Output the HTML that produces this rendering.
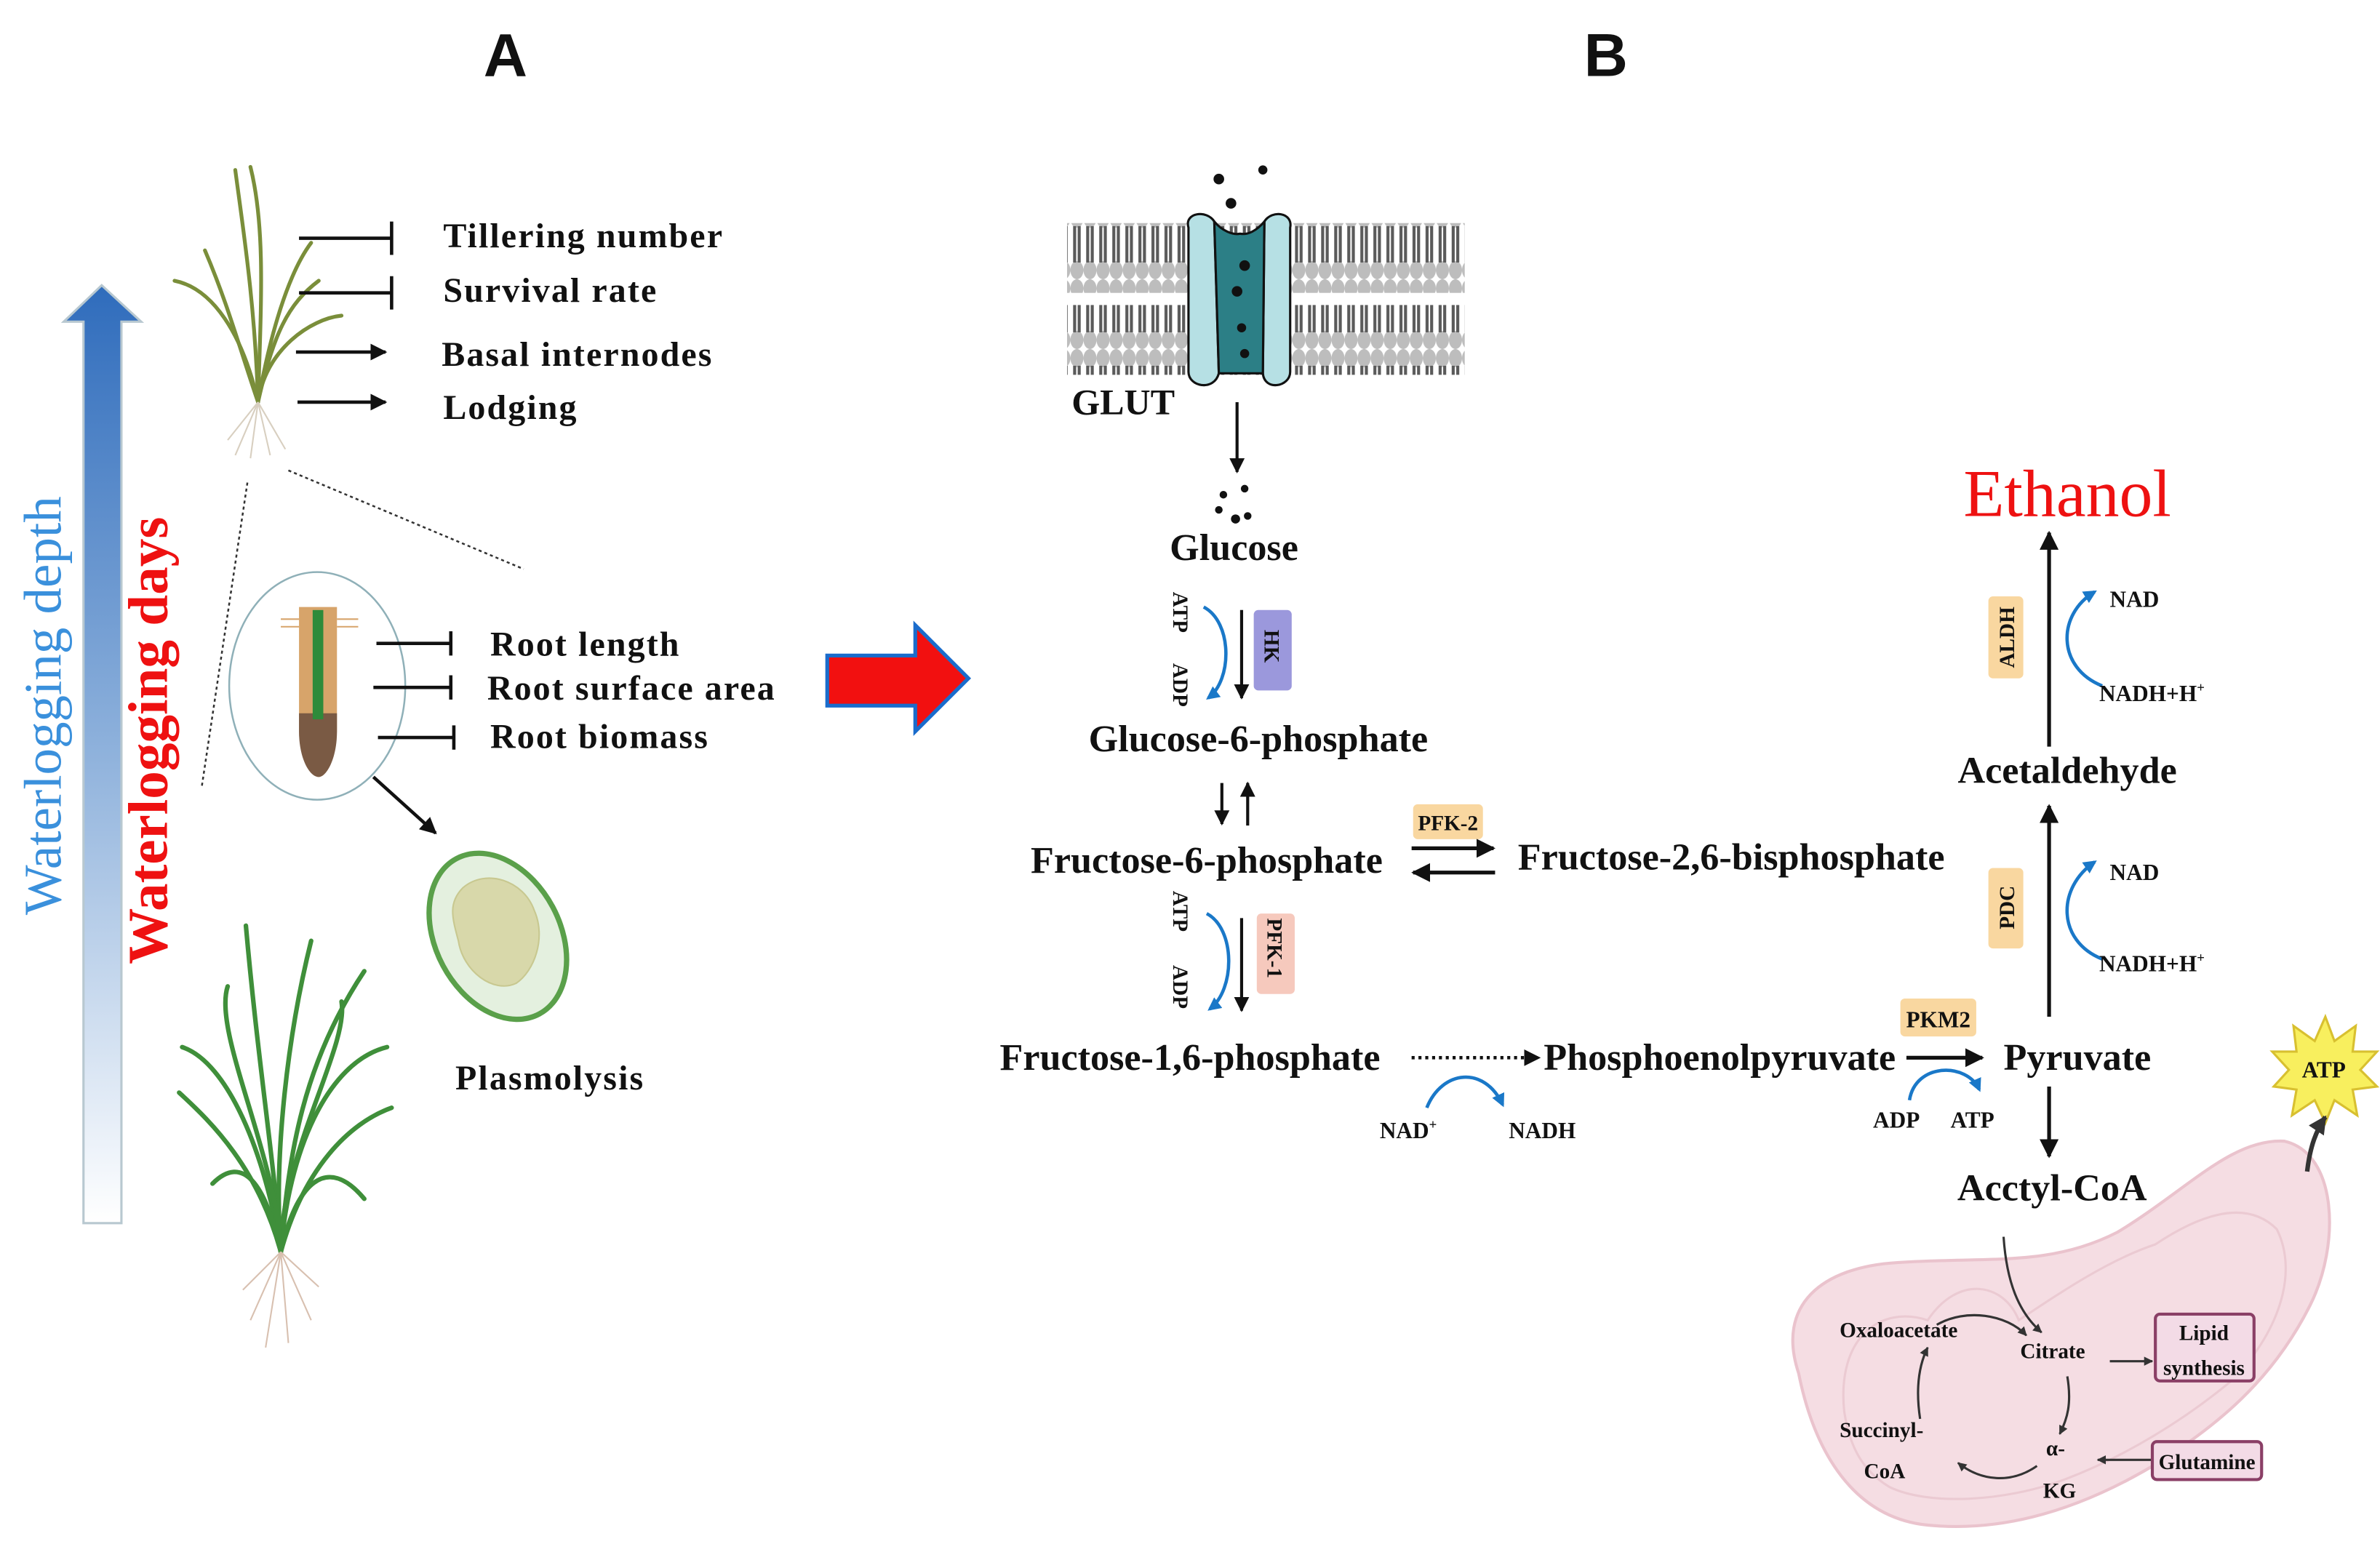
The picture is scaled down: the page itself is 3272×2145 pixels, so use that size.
<!DOCTYPE html>
<html><head><meta charset="utf-8"><style>
html,body{margin:0;padding:0;background:#fff;}
svg{display:block;}
text{font-family:"Liberation Serif",serif;font-weight:bold;fill:#111;}
.sans{font-family:"Liberation Sans",sans-serif;}
</style></head><body>
<svg width="3272" height="2145" viewBox="0 0 1568 1028" preserveAspectRatio="none" xmlns="http://www.w3.org/2000/svg">
<defs>
<linearGradient id="bg" x1="0" y1="0" x2="0" y2="1">
<stop offset="0" stop-color="#2f6cbc"/><stop offset="0.5" stop-color="#8fb2dc"/><stop offset="1" stop-color="#ffffff"/>
</linearGradient>
<pattern id="lip" x="0" y="0" width="8.6" height="46" patternUnits="userSpaceOnUse">
<ellipse cx="4.3" cy="6" rx="4.3" ry="6" fill="#bdbdbd"/>
<ellipse cx="4.3" cy="40" rx="4.3" ry="6" fill="#bdbdbd"/>
<line x1="2.8" y1="11" x2="2.8" y2="35" stroke="#5a5a5a" stroke-width="2"/>
<line x1="5.8" y1="11" x2="5.8" y2="35" stroke="#5a5a5a" stroke-width="2"/>
</pattern>
<marker id="ah" viewBox="0 0 10 10" refX="9" refY="5" markerWidth="5" markerHeight="5" orient="auto"><path d="M0,0 L10,5 L0,10 z" fill="#111"/></marker>
<marker id="ahs" viewBox="0 0 10 10" refX="9" refY="5" markerWidth="4" markerHeight="4" orient="auto"><path d="M0,0 L10,5 L0,10 z" fill="#333"/></marker>
<marker id="ab" viewBox="0 0 10 10" refX="8" refY="5" markerWidth="4" markerHeight="4" orient="auto"><path d="M0,0 L10,5 L0,10 z" fill="#1a78c8"/></marker>
</defs>

<text x="333" y="50" font-size="40" text-anchor="middle" class="sans" font-family="Liberation Sans">A</text>
<text x="1058" y="50" font-size="40" text-anchor="middle" class="sans" font-family="Liberation Sans">B</text>

<path d="M55,212 L42,212 L67,188 L93,212 L80,212 L80,806 L55,806 Z" fill="url(#bg)" stroke="#b8c8d0" stroke-width="1.5"/>
<text transform="translate(40,465) rotate(-90)" font-size="35" text-anchor="middle" style="fill:#3a90dc;font-weight:normal">Waterlogging depth</text>
<text transform="translate(110,488) rotate(-90)" font-size="37" text-anchor="middle" style="fill:#ee1111">Waterlogging days</text>

<g stroke="#7a8e3a" stroke-width="2.5" fill="none" stroke-linecap="round">
<path d="M170,265 C168,200 160,150 155,112"/>
<path d="M170,265 C172,200 175,150 165,110"/>
<path d="M170,265 C160,220 140,190 115,185"/>
<path d="M170,265 C180,220 190,200 210,185"/>
<path d="M170,265 C175,230 205,210 225,208"/>
<path d="M170,265 C158,230 150,200 135,165"/>
<path d="M170,265 C178,220 190,180 205,160"/>
</g>
<g stroke="#d8cfc0" stroke-width="1" fill="none">
<path d="M170,265 L155,300 M170,265 L165,302 M170,265 L178,300 M170,265 L188,296 M170,265 L150,290"/>
</g>

<g stroke="#111" stroke-width="2.2">
<line x1="197" y1="157" x2="258" y2="157"/><line x1="258" y1="146" x2="258" y2="168"/>
<line x1="197" y1="193" x2="258" y2="193"/><line x1="258" y1="182" x2="258" y2="204"/>
<line x1="195" y1="232" x2="254" y2="232" marker-end="url(#ah)"/>
<line x1="196" y1="265" x2="254" y2="265" marker-end="url(#ah)"/>
</g>
<g font-size="23" letter-spacing="1">
<text x="292" y="163">Tillering  number</text>
<text x="292" y="199">Survival  rate</text>
<text x="291" y="241">Basal internodes</text>
<text x="292" y="276">Lodging</text>
</g>

<g stroke="#333" stroke-width="1.2" stroke-dasharray="2,2">
<line x1="163" y1="318" x2="133" y2="518"/>
<line x1="190" y1="310" x2="345" y2="375"/>
</g>
<ellipse cx="209" cy="452" rx="58" ry="75" fill="none" stroke="#8fb0b8" stroke-width="1.2"/>
<path d="M197,400 L222,400 L222,480 C222,500 215,512 210,512 C204,512 197,500 197,480 Z" fill="#d7a46a"/>
<path d="M197,470 L222,470 L222,482 C222,500 215,512 210,512 C204,512 197,500 197,482 Z" fill="#7a5a44"/>
<rect x="206" y="402" width="7" height="72" fill="#2e8b3a"/>
<g stroke="#d7a46a" stroke-width="1"><line x1="185" y1="408" x2="197" y2="408"/><line x1="185" y1="413" x2="197" y2="413"/><line x1="222" y1="408" x2="236" y2="408"/><line x1="222" y1="413" x2="236" y2="413"/></g>
<g stroke="#111" stroke-width="2.2">
<line x1="248" y1="424" x2="297" y2="424"/><line x1="297" y1="416" x2="297" y2="432"/>
<line x1="246" y1="453" x2="297" y2="453"/><line x1="297" y1="445" x2="297" y2="461"/>
<line x1="249" y1="486" x2="299" y2="486"/><line x1="299" y1="478" x2="299" y2="494"/>
<line x1="246" y1="512" x2="287" y2="549" marker-end="url(#ah)"/>
</g>
<g font-size="23" letter-spacing="1">
<text x="323" y="432">Root length</text>
<text x="321" y="461">Root surface  area</text>
<text x="323" y="493">Root biomass</text>
<text x="300" y="718">Plasmolysis</text>
</g>
<ellipse cx="328" cy="617" rx="41" ry="58" transform="rotate(-28 328 617)" fill="#e4f0df" stroke="#5aa04a" stroke-width="3.5"/>
<path d="M305,585 C320,572 345,580 352,600 C360,618 352,640 340,648 C325,655 305,640 302,620 C298,605 295,595 305,585 Z" fill="#d8d8aa" stroke="#c8c890" stroke-width="1"/>

<g stroke="#3f8f3a" stroke-width="3" fill="none" stroke-linecap="round">
<path d="M185,825 C180,760 170,700 162,610"/>
<path d="M185,825 C175,760 150,700 120,690"/>
<path d="M185,825 C190,760 215,700 255,690"/>
<path d="M185,825 C190,760 200,700 240,640"/>
<path d="M185,825 C170,770 140,740 118,720"/>
<path d="M185,825 C200,770 230,740 258,730"/>
<path d="M185,825 C180,760 190,680 205,620"/>
<path d="M185,825 C175,780 160,760 140,780"/>
<path d="M185,825 C195,780 215,760 240,790"/>
<path d="M185,825 C185,760 230,690 225,660"/>
<path d="M185,825 C182,760 140,680 150,650"/>
</g>
<g stroke="#d8c0b0" stroke-width="1" fill="none">
<path d="M185,825 L165,870 M185,825 L175,888 M185,825 L190,885 M185,825 L205,870 M185,825 L160,850 M185,825 L210,848"/>
</g>

<path d="M545,432 L603,432 L603,412 L638,447 L603,482 L603,465 L545,465 Z" fill="#f21010" stroke="#1a6ccc" stroke-width="2.5"/>

<rect x="703" y="147" width="262" height="46" fill="url(#lip)"/>
<rect x="703" y="201" width="262" height="46" fill="url(#lip)"/>
<path d="M783,150 C780,140 795,138 800,146 L803,246 C800,258 783,255 783,245 Z" fill="#b6e0e4" stroke="#111" stroke-width="1.5"/>
<path d="M833,146 C838,138 852,140 850,150 L850,245 C850,255 833,258 832,246 Z" fill="#b6e0e4" stroke="#111" stroke-width="1.5"/>
<path d="M800,146 C805,152 812,155 817,154 C822,155 828,152 833,146 L832,246 L803,246 Z" fill="#2c7f86" stroke="#111" stroke-width="1.5"/>
<g fill="#111">
<circle cx="803" cy="118" r="3.5"/><circle cx="832" cy="112" r="3"/><circle cx="811" cy="134" r="3.5"/>
<circle cx="820" cy="175" r="3.5"/><circle cx="815" cy="192" r="3.5"/><circle cx="818" cy="216" r="3"/><circle cx="820" cy="233" r="3"/>
<circle cx="806" cy="326" r="2.5"/><circle cx="820" cy="322" r="2.5"/><circle cx="803" cy="336" r="2.5"/><circle cx="814" cy="342" r="3"/><circle cx="822" cy="340" r="2.5"/>
</g>
<text x="706" y="273" font-size="24">GLUT</text>
<line x1="815" y1="265" x2="815" y2="311" stroke="#111" stroke-width="2" marker-end="url(#ah)"/>

<g font-size="25">
<text x="813" y="369" text-anchor="middle">Glucose</text>
<text x="829" y="495" text-anchor="middle">Glucose-6-phosphate</text>
<text x="795" y="575" text-anchor="middle">Fructose-6-phosphate</text>
<text x="1000" y="573">Fructose-2,6-bisphosphate</text>
<text x="784" y="705" text-anchor="middle">Fructose-1,6-phosphate</text>
<text x="1017" y="705">Phosphoenolpyruvate</text>
<text x="1320" y="705">Pyruvate</text>
<text x="1362" y="516" text-anchor="middle">Acetaldehyde</text>
<text x="1352" y="791" text-anchor="middle">Acctyl-CoA</text>
</g>
<text x="1362" y="340" font-size="44" text-anchor="middle" style="fill:#ee1111;font-weight:normal">Ethanol</text>

<g font-size="14">
<text transform="translate(773,390) rotate(90)">ATP</text>
<text transform="translate(773,437) rotate(90)">ADP</text>
<text transform="translate(773,587) rotate(90)">ATP</text>
<text transform="translate(773,636) rotate(90)">ADP</text>
</g>
<path d="M793,400 C812,410 812,448 796,460" fill="none" stroke="#1a78c8" stroke-width="2.2" marker-end="url(#ab)"/>
<line x1="818" y1="402" x2="818" y2="460" stroke="#111" stroke-width="2" marker-end="url(#ah)"/>
<rect x="826" y="402" width="25" height="53" rx="3" fill="#9b98dc"/>
<text transform="translate(833,415) rotate(90)" font-size="14">HK</text>

<path d="M795,602 C814,612 814,652 797,665" fill="none" stroke="#1a78c8" stroke-width="2.2" marker-end="url(#ab)"/>
<line x1="818" y1="605" x2="818" y2="666" stroke="#111" stroke-width="2" marker-end="url(#ah)"/>
<rect x="828" y="602" width="25" height="53" rx="3" fill="#f6c9bd"/>
<text transform="translate(835,605) rotate(90)" font-size="14">PFK-1</text>

<line x1="805" y1="516" x2="805" y2="543" stroke="#111" stroke-width="2" marker-end="url(#ah)"/>
<line x1="822" y1="544" x2="822" y2="516" stroke="#111" stroke-width="2" marker-end="url(#ah)"/>

<rect x="931" y="530" width="46" height="23" rx="3" fill="#f9d7a0"/>
<text x="954" y="547" font-size="14" text-anchor="middle">PFK-2</text>
<line x1="930" y1="559" x2="984" y2="559" stroke="#111" stroke-width="2.5" marker-end="url(#ah)"/>
<line x1="985" y1="575" x2="931" y2="575" stroke="#111" stroke-width="2.5" marker-end="url(#ah)"/>

<line x1="930" y1="697" x2="1014" y2="697" stroke="#111" stroke-width="2.2" stroke-dasharray="2,2.5" marker-end="url(#ah)"/>
<path d="M940,730 C950,705 978,702 990,728" fill="none" stroke="#1a78c8" stroke-width="2.2" marker-end="url(#ab)"/>
<text x="909" y="750" font-size="15">NAD<tspan font-size="9" dy="-6">+</tspan></text>
<text x="994" y="750" font-size="15">NADH</text>

<rect x="1252" y="658" width="50" height="25" rx="3" fill="#f9d7a0"/>
<text x="1277" y="677" font-size="15" text-anchor="middle">PKM2</text>
<line x1="1256" y1="697" x2="1306" y2="697" stroke="#111" stroke-width="2.5" marker-end="url(#ah)"/>
<path d="M1258,725 C1262,700 1296,700 1304,718" fill="none" stroke="#1a78c8" stroke-width="2.2" marker-end="url(#ab)"/>
<text x="1234" y="743" font-size="15">ADP</text>
<text x="1285" y="743" font-size="15">ATP</text>

<line x1="1350" y1="670" x2="1350" y2="531" stroke="#111" stroke-width="2.5" marker-end="url(#ah)"/>
<line x1="1350" y1="492" x2="1350" y2="351" stroke="#111" stroke-width="2.5" marker-end="url(#ah)"/>
<line x1="1350" y1="716" x2="1350" y2="762" stroke="#111" stroke-width="2.5" marker-end="url(#ah)"/>

<rect x="1310" y="572" width="23" height="53" rx="3" fill="#f9d7a0"/>
<text transform="translate(1327,598) rotate(-90)" font-size="14" text-anchor="middle">PDC</text>
<rect x="1310" y="393" width="23" height="54" rx="3" fill="#f9d7a0"/>
<text transform="translate(1327,420) rotate(-90)" font-size="14" text-anchor="middle">ALDH</text>
<path d="M1385,632 C1355,620 1355,585 1380,568" fill="none" stroke="#1a78c8" stroke-width="2.2" marker-end="url(#ab)"/>
<path d="M1385,452 C1355,440 1355,405 1380,390" fill="none" stroke="#1a78c8" stroke-width="2.2" marker-end="url(#ab)"/>
<g font-size="15">
<text x="1390" y="580">NAD</text>
<text x="1383" y="640">NADH+H<tspan font-size="9" dy="-6">+</tspan></text>
<text x="1390" y="400">NAD</text>
<text x="1383" y="462">NADH+H<tspan font-size="9" dy="-6">+</tspan></text>
</g>

<path d="M1185,905 C1170,860 1200,835 1250,832 C1310,828 1350,835 1395,812 C1440,785 1470,750 1505,752 C1540,760 1542,820 1522,860 C1497,910 1460,940 1420,965 C1370,995 1320,1010 1270,1005 C1220,1000 1195,955 1185,905 Z" fill="#f5dde3" stroke="#eac3cd" stroke-width="2"/>
<path d="M1215,930 C1210,880 1240,860 1270,870 C1290,840 1320,845 1330,870 C1360,850 1390,830 1420,820 C1450,800 1480,790 1500,810 C1515,840 1500,880 1470,910 C1440,935 1400,960 1360,975 C1320,990 1270,992 1245,980 C1225,968 1218,950 1215,930 Z" fill="none" stroke="#ebcad2" stroke-width="1.5"/>
<path d="M1320,815 C1322,845 1330,865 1345,878" fill="none" stroke="#333" stroke-width="1.5" marker-end="url(#ahs)"/>
<path d="M1276,873 C1295,862 1322,866 1335,880" fill="none" stroke="#333" stroke-width="1.5" marker-end="url(#ahs)"/>
<line x1="1390" y1="897" x2="1418" y2="897" stroke="#333" stroke-width="1.5" marker-end="url(#ahs)"/>
<path d="M1362,907 C1365,925 1362,935 1357,945" fill="none" stroke="#333" stroke-width="1.5" marker-end="url(#ahs)"/>
<path d="M1342,966 C1325,978 1305,976 1290,964" fill="none" stroke="#333" stroke-width="1.5" marker-end="url(#ahs)"/>
<path d="M1265,935 C1262,915 1264,900 1270,888" fill="none" stroke="#333" stroke-width="1.5" marker-end="url(#ahs)"/>
<line x1="1418" y1="962" x2="1382" y2="962" stroke="#333" stroke-width="1.5" marker-end="url(#ahs)"/>
<rect x="1420" y="866" width="65" height="44" rx="3" fill="#f3dbe6" stroke="#8a3f66" stroke-width="2"/>
<rect x="1418" y="950" width="72" height="25" rx="3" fill="#f3dbe6" stroke="#8a3f66" stroke-width="2"/>
<g font-size="14" style="fill:#222">
<text x="1212" y="881">Oxaloacetate</text>
<text x="1331" y="895">Citrate</text>
<text x="1452" y="883" text-anchor="middle">Lipid</text>
<text x="1452" y="906" text-anchor="middle">synthesis</text>
<text x="1212" y="947">Succinyl-</text>
<text x="1228" y="974">CoA</text>
<text x="1348" y="959">α-</text>
<text x="1346" y="987">KG</text>
<text x="1454" y="968" text-anchor="middle">Glutamine</text>
</g>
<path d="M1532,670 L1538,686 L1552,676 L1550,693 L1566,693 L1555,705 L1566,716 L1550,718 L1553,735 L1538,725 L1532,740 L1525,725 L1510,735 L1513,718 L1498,716 L1508,705 L1497,693 L1513,693 L1511,676 L1525,686 Z" fill="#f8ef5e" stroke="#d8c030" stroke-width="1.5"/>
<text x="1531" y="710" font-size="15" text-anchor="middle">ATP</text>
<path d="M1520,772 C1522,755 1526,745 1532,736" fill="none" stroke="#333" stroke-width="3" marker-end="url(#ahs)"/>
</svg>
</body></html>
